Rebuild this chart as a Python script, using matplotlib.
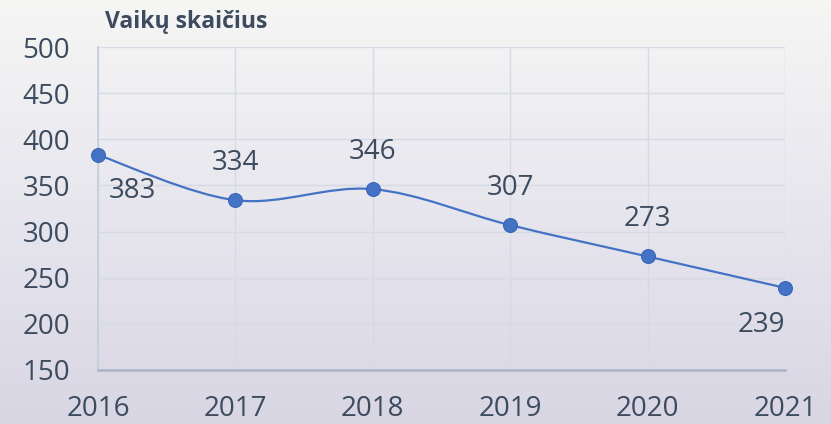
import numpy as np
import matplotlib
matplotlib.use("Agg")
import matplotlib.pyplot as plt
from matplotlib.path import Path
from matplotlib.patches import PathPatch
from matplotlib.colors import LinearSegmentedColormap

years = [2016, 2017, 2018, 2019, 2020, 2021]
values = [383, 334, 346, 307, 273, 239]
yticks = [150, 200, 250, 300, 350, 400, 450, 500]
title = "Vaikų skaičius"

plt.rcParams['font.family'] = ['Open Sans', 'DejaVu Sans']
txt = '#3d4b5f'
blue = '#4472c4'

fig = plt.figure(figsize=(8.31, 4.24), dpi=100)
bg = fig.add_axes([0, 0, 1, 1], zorder=-10)
grad = np.linspace(0, 1, 256)[:, None]
cmap = LinearSegmentedColormap.from_list('bg', ['#f6f6f5', '#e7e6ee', '#d9d6e4'])
bg.imshow(grad, aspect='auto', cmap=cmap, extent=[0, 1, 0, 1], origin='upper')
bg.axis('off')

ax = fig.add_axes([98/831, 1-370/424, (785-98)/831, (370-47)/424])
ax.patch.set_alpha(0)
ax.set_xlim(2016, 2021)
ax.set_ylim(150, 500)
ax.set_yticks(yticks)
ax.set_xticks(years)
ax.grid(True, color='#d5dae4', linewidth=1)
ax.set_axisbelow(True)
for s in ['top', 'right']:
    ax.spines[s].set_visible(False)
ax.spines['left'].set_color('#c3cddb')
ax.spines['left'].set_linewidth(1.2)
ax.spines['bottom'].set_color('#a9b4c8')
ax.spines['bottom'].set_linewidth(1.8)
ax.tick_params(length=0, labelsize=20, labelcolor=txt)
ax.tick_params(axis='y', pad=20)
ax.tick_params(axis='x', pad=18)

# Smooth line (Catmull-Rom style bezier) through data points
x = np.array(years, float)
y = np.array(values, float)
verts = [(x[0], y[0])]
codes = [Path.MOVETO]
t = 1/6
for i in range(len(x)-1):
    p0 = (x[i-1], y[i-1]) if i > 0 else (x[i], y[i])
    p1 = (x[i], y[i]); p2 = (x[i+1], y[i+1])
    p3 = (x[i+2], y[i+2]) if i+2 < len(x) else p2
    c1 = (p1[0] + (p2[0]-p0[0])*t, p1[1] + (p2[1]-p0[1])*t)
    c2 = (p2[0] - (p3[0]-p1[0])*t, p2[1] - (p3[1]-p1[1])*t)
    verts += [c1, c2, p2]
    codes += [Path.CURVE4]*3
ax.add_patch(PathPatch(Path(verts, codes), facecolor='none', edgecolor=blue, lw=1.6, zorder=3, clip_on=False))
ax.plot(x, y, 'o', color=blue, markersize=10, markeredgecolor='#3a66b8', markeredgewidth=0.8, zorder=4, clip_on=False)

offsets = [(25, -26), (0, 27), (0, 27), (0, 27), (0, 27), (-17, -27)]
for xi, yi, (dx, dy) in zip(x, y, offsets):
    ax.annotate(str(int(yi)), (xi, yi), xytext=(dx, dy), textcoords='offset points',
                ha='center', va='center', fontsize=20, color=txt, zorder=5)

fig.text(105/831, 1-22/424, title, fontsize=16.5, fontweight='bold', color=txt, va='center', ha='left')

fig.savefig('out.png', dpi=100)
